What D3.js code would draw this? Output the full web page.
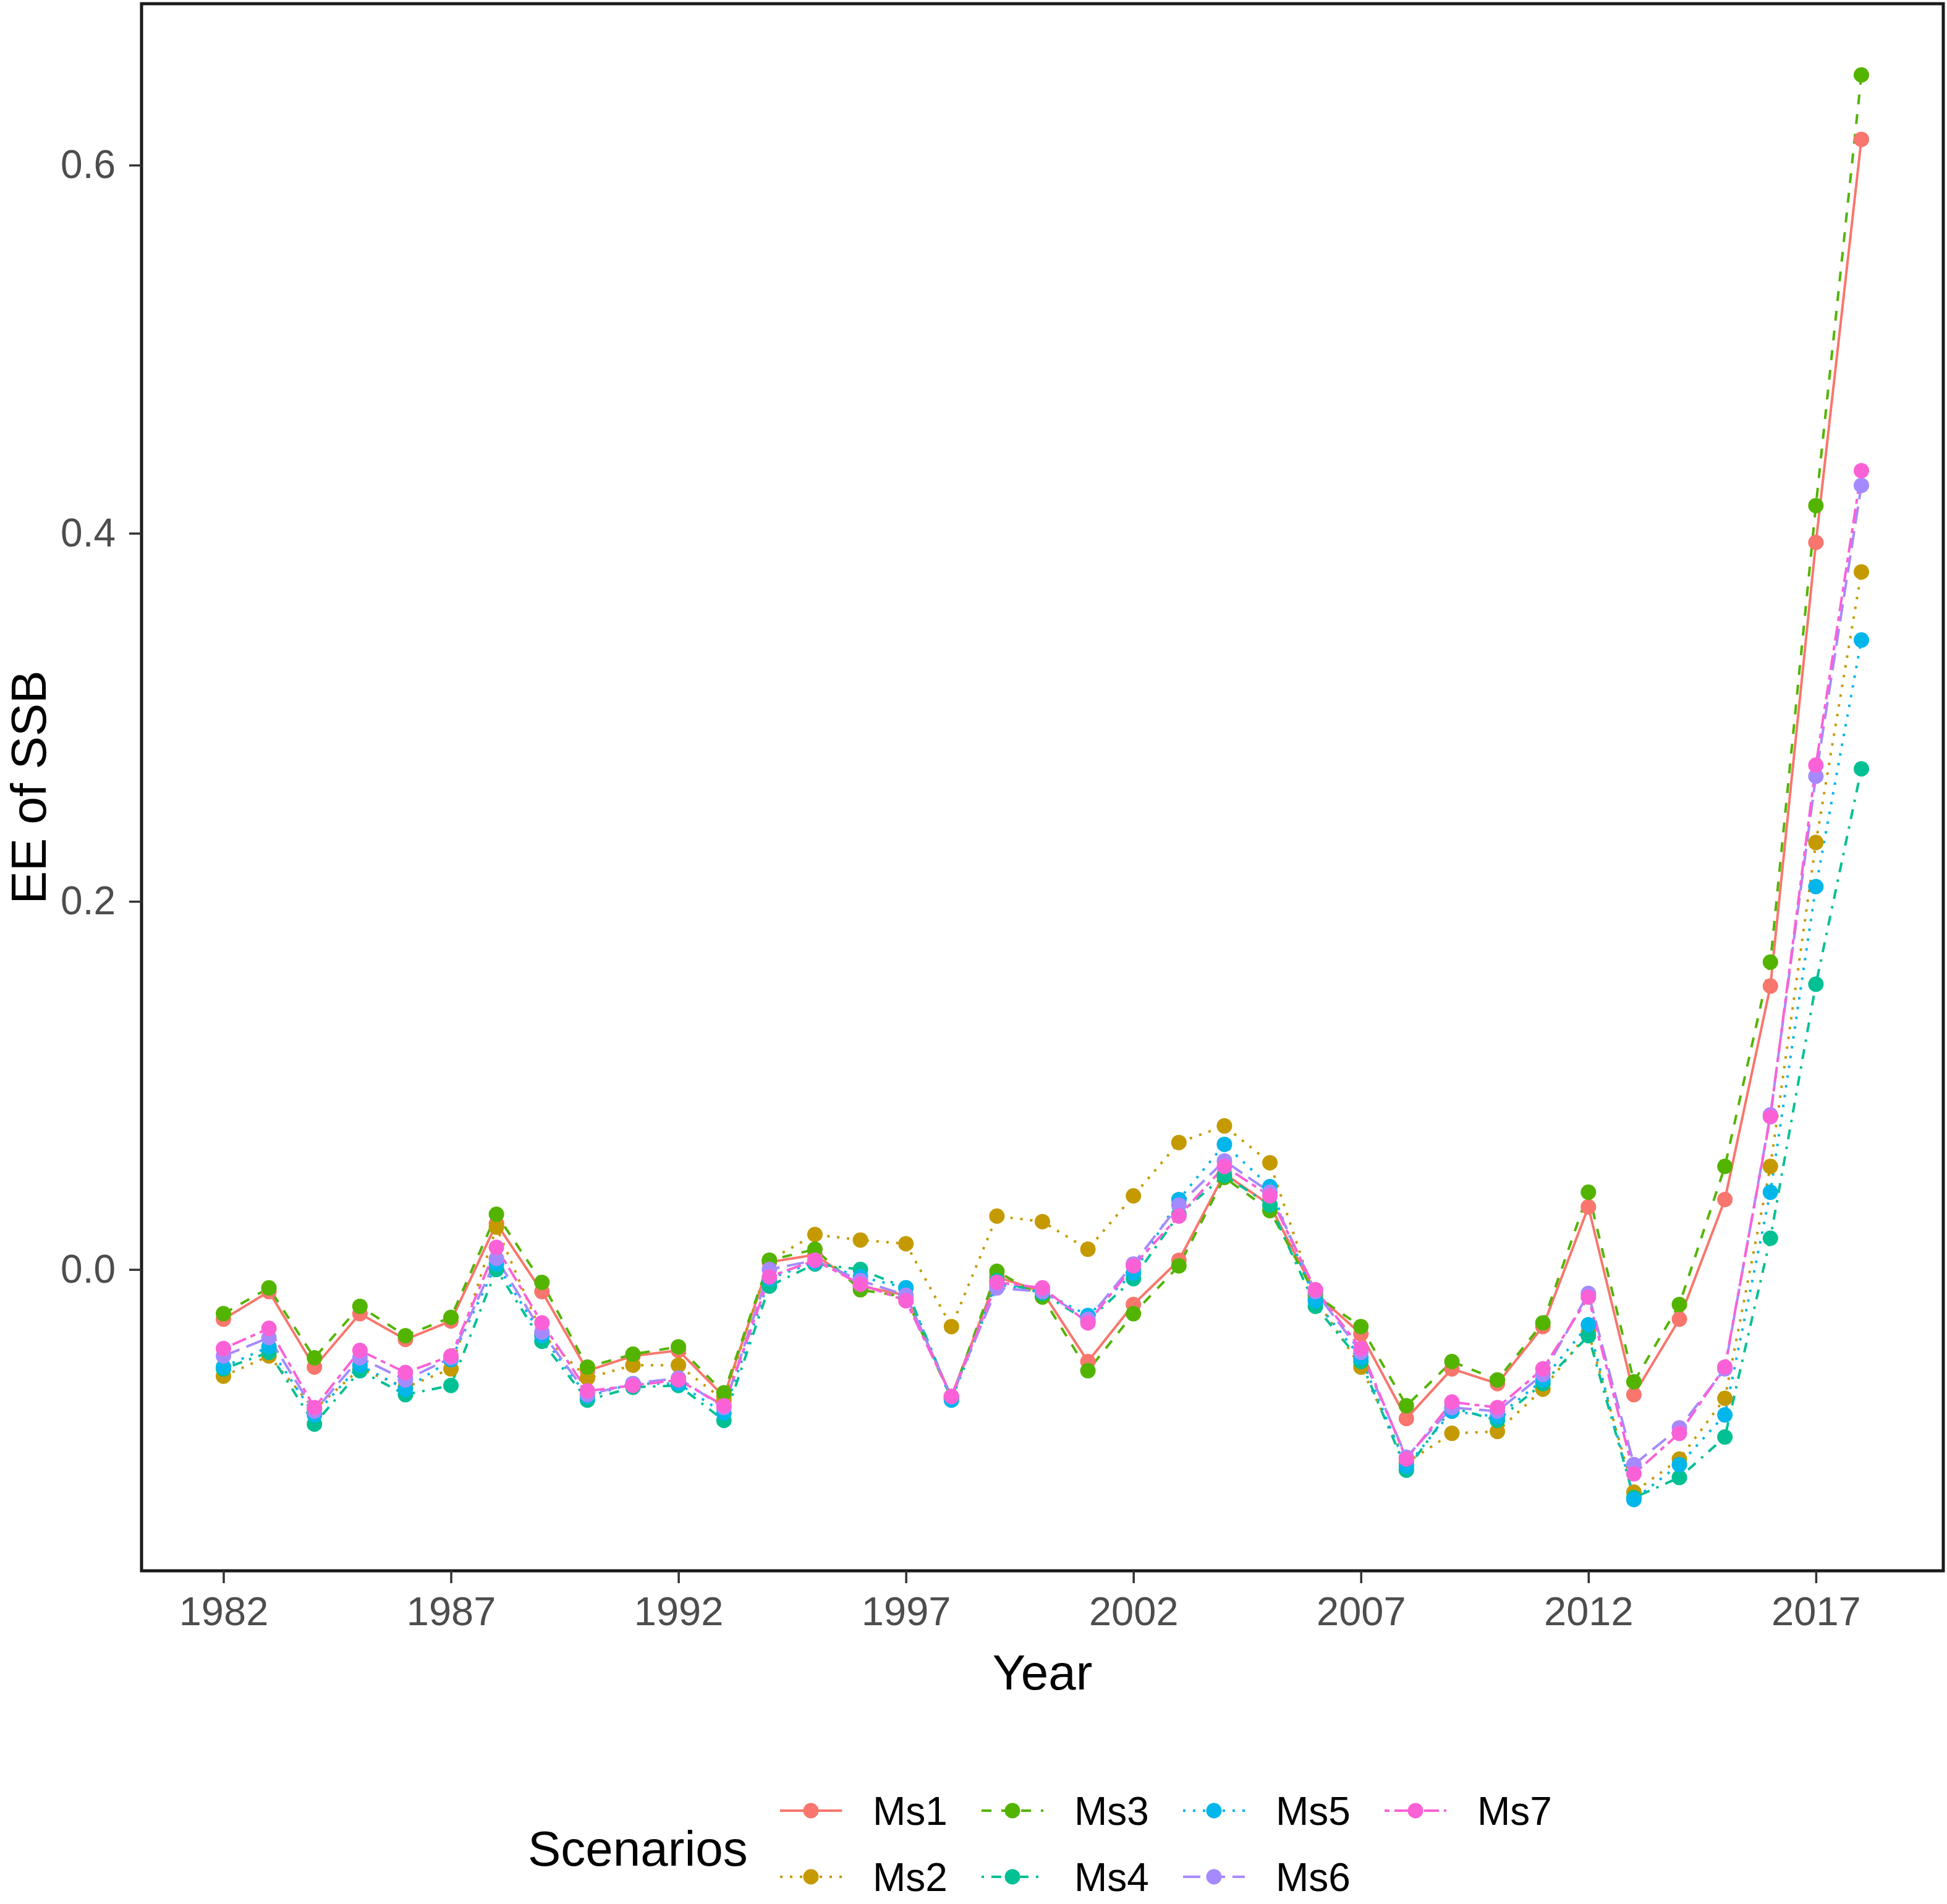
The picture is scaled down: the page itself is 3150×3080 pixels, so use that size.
<!DOCTYPE html>
<html><head><meta charset="utf-8">
<script src="https://cdn.jsdelivr.net/npm/d3@7"></script>
<style>html,body{margin:0;padding:0;background:#fff;}svg{display:block;}</style>
</head><body>
<script>
const years = d3.range(1982, 2019);
const scenarios = ["Ms1","Ms2","Ms3","Ms4","Ms5","Ms6","Ms7"];
const colors = ["#F8766D","#C49A00","#53B400","#00C094","#00B6EB","#A58AFF","#FB61D7"];
const dashUnits = [null,[1,3],[4,4],[1,3,4,3],[1,3],[7,3],[2,2,6,2]];
const xTicks = [1982,1987,1992,1997,2002,2007,2012,2017];
const yTicks = [0.0,0.2,0.4,0.6];

const ms1 = [-0.027,-0.012,-0.053,-0.024,-0.038,-0.028,0.025,-0.012,-0.055,-0.047,-0.044,-0.069,
  0.004,0.008,-0.009,-0.014,-0.069,-0.004,-0.012,-0.050,-0.019,0.005,0.052,0.035,-0.013,-0.035,-0.081,-0.054,-0.062,-0.031,0.034,-0.068,-0.027,0.038,0.154,0.395,0.614];
const ms2 = [-0.058,-0.047,-0.076,-0.054,-0.064,-0.054,0.023,-0.035,-0.059,-0.052,-0.052,-0.071,
  0.005,0.019,0.016,0.014,-0.031,0.029,0.026,0.011,0.040,0.069,0.078,0.058,-0.016,-0.053,-0.105,-0.089,-0.088,-0.065,-0.034,-0.121,-0.103,-0.070,0.056,0.232,0.379];
const ms3 = [-0.024,-0.010,-0.048,-0.020,-0.036,-0.026,0.030,-0.007,-0.053,-0.046,-0.042,-0.067,
  0.005,0.011,-0.011,-0.015,-0.070,-0.001,-0.015,-0.055,-0.024,0.002,0.050,0.032,-0.014,-0.031,-0.074,-0.050,-0.060,-0.029,0.042,-0.061,-0.019,0.056,0.167,0.415,0.649];
const ms4 = [-0.054,-0.045,-0.084,-0.055,-0.068,-0.063,0.000,-0.039,-0.071,-0.064,-0.063,-0.082,
  -0.009,0.003,0.000,-0.010,-0.070,-0.006,-0.013,-0.028,-0.005,0.030,0.051,0.035,-0.020,-0.050,-0.109,-0.075,-0.082,-0.062,-0.036,-0.124,-0.113,-0.091,0.017,0.155,0.272];
const ms5 = [-0.053,-0.042,-0.079,-0.052,-0.065,-0.049,0.003,-0.036,-0.069,-0.062,-0.062,-0.078,
  -0.005,0.004,-0.004,-0.010,-0.071,-0.008,-0.012,-0.025,-0.002,0.038,0.068,0.045,-0.017,-0.048,-0.107,-0.077,-0.080,-0.060,-0.030,-0.125,-0.106,-0.079,0.042,0.208,0.342];
const ms6 = [-0.047,-0.037,-0.077,-0.048,-0.060,-0.048,0.006,-0.034,-0.068,-0.062,-0.059,-0.075,
  0.000,0.005,-0.006,-0.014,-0.069,-0.010,-0.012,-0.027,0.003,0.035,0.059,0.042,-0.012,-0.045,-0.102,-0.075,-0.077,-0.057,-0.013,-0.106,-0.086,-0.054,0.084,0.268,0.426];
const ms7 = [-0.043,-0.032,-0.075,-0.044,-0.056,-0.047,0.012,-0.029,-0.066,-0.063,-0.060,-0.074,
  -0.004,0.005,-0.008,-0.017,-0.069,-0.007,-0.010,-0.029,0.002,0.029,0.056,0.040,-0.011,-0.043,-0.103,-0.072,-0.075,-0.054,-0.015,-0.111,-0.089,-0.053,0.083,0.274,0.434];

const seriesValues = [ms1,ms2,ms3,ms4,ms5,ms6,ms7];
const series = scenarios.map((name,i)=>({name, color:colors[i], dash:dashUnits[i],
  values: years.map((y,j)=>({year:y, value:seriesValues[i][j]}))}));

const W = 3150, H = 3080;
const panel = {left:229, right:3144, top:6, bottom:2541};
const font = "'Liberation Sans', Arial, sans-serif";
const lw = 4, r = 12.5;

const svg = d3.select("body").append("svg").attr("width",W).attr("height",H)
  .style("font-family", font);
svg.append("rect").attr("width",W).attr("height",H).attr("fill","#fff");

const allVals = seriesValues.flat();
const xmin = d3.min(years), xmax = d3.max(years);
const ymin = d3.min(allVals), ymax = d3.max(allVals);
const xpad = (xmax-xmin)*0.05, ypad = (ymax-ymin)*0.05;
const x = d3.scaleLinear().domain([xmin-xpad, xmax+xpad]).range([panel.left, panel.right]);
const y = d3.scaleLinear().domain([ymin-ypad, ymax+ypad]).range([panel.bottom, panel.top]);

svg.append("clipPath").attr("id","clip").append("rect")
  .attr("x",panel.left).attr("y",panel.top)
  .attr("width",panel.right-panel.left).attr("height",panel.bottom-panel.top);

const g = svg.append("g").attr("clip-path","url(#clip)");
const line = d3.line().x(d=>x(d.year)).y(d=>y(d.value));

g.selectAll("path.series").data(series).join("path")
  .attr("class","series")
  .attr("d", d=>line(d.values))
  .attr("fill","none")
  .attr("stroke", d=>d.color)
  .attr("stroke-width", lw)
  .attr("stroke-dasharray", d=> d.dash ? d.dash.map(u=>u*lw).join(",") : null);

series.forEach(s=>{
  g.selectAll(null).data(s.values).join("circle")
    .attr("cx", d=>x(d.year)).attr("cy", d=>y(d.value)).attr("r", r)
    .attr("fill", s.color);
});

// panel border
svg.append("rect").attr("x",panel.left).attr("y",panel.top)
  .attr("width",panel.right-panel.left).attr("height",panel.bottom-panel.top)
  .attr("fill","none").attr("stroke","#1a1a1a").attr("stroke-width",5);

// axes
const xAxis = d3.axisBottom(x).tickValues(xTicks).tickFormat(d3.format("d")).tickSize(20).tickPadding(22);
const xa = svg.append("g").attr("transform",`translate(0,${panel.bottom})`).call(xAxis);
xa.select(".domain").remove();
xa.selectAll(".tick line").attr("stroke","#333").attr("stroke-width",3.5);
xa.selectAll(".tick text").attr("fill","#4D4D4D").style("font-size","65px").style("font-family",font)
  .attr("dy","0.71em");

const yAxis = d3.axisLeft(y).tickValues(yTicks).tickFormat(d3.format(".1f")).tickSize(20).tickPadding(22);
const ya = svg.append("g").attr("transform",`translate(${panel.left},0)`).call(yAxis);
ya.select(".domain").remove();
ya.selectAll(".tick line").attr("stroke","#333").attr("stroke-width",3.5);
ya.selectAll(".tick text").attr("fill","#4D4D4D").style("font-size","64px").style("font-family",font);

// titles
svg.append("text").attr("x",(panel.left+panel.right)/2).attr("y",2733)
  .attr("text-anchor","middle").style("font-size","80px").attr("fill","#000").text("Year");
svg.append("text").attr("transform",`translate(74,${(panel.top+panel.bottom)/2}) rotate(-90)`)
  .attr("text-anchor","middle").style("font-size","80px").attr("fill","#000").text("EE of SSB");

// legend
const leg = svg.append("g");
leg.append("text").attr("x",854).attr("y",2990).attr("dy","0.35em")
  .style("font-size","80px").attr("fill","#000").text("Scenarios");
const colX = [1262, 1588, 1914, 2240];
const rowY = [2929, 3036];
series.forEach((s,i)=>{
  const col = Math.floor(i/2), row = i%2;
  const kx = colX[col], ky = rowY[row];
  const item = leg.append("g").attr("transform",`translate(${kx},${ky})`);
  item.append("line").attr("x1",0).attr("x2",100).attr("y1",0).attr("y2",0)
    .attr("stroke",s.color).attr("stroke-width",lw)
    .attr("stroke-dasharray", s.dash ? s.dash.map(u=>u*lw).join(",") : null);
  item.append("circle").attr("cx",50).attr("cy",0).attr("r",r).attr("fill",s.color);
  item.append("text").attr("x",150).attr("y",0).attr("dy","0.36em")
    .style("font-size","64px").attr("fill","#000").text(s.name);
});
</script>
</body></html>
